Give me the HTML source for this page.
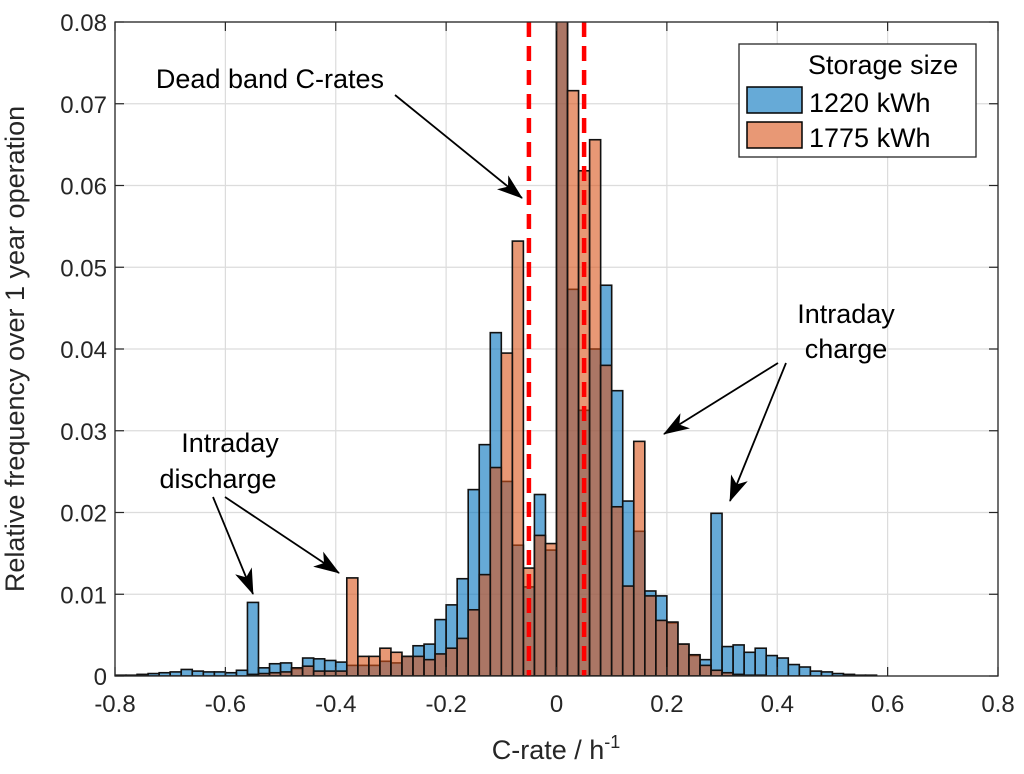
<!DOCTYPE html>
<html><head><meta charset="utf-8"><style>
html,body{margin:0;padding:0;background:#fff;}
svg{display:block;font-family:"Liberation Sans",Arial,sans-serif;}
</style></head><body>
<svg id="chart" width="1024" height="774" viewBox="0 0 1024 774" xmlns="http://www.w3.org/2000/svg">
<defs>
<clipPath id="plotclip"><rect x="115" y="22" width="883" height="654"/></clipPath>
<marker id="ah" markerWidth="26" markerHeight="18" refX="25" refY="9" orient="auto" markerUnits="userSpaceOnUse" viewBox="0 0 26 18"><path d="M0,0 L26,9 L0,18 L7,9 Z" fill="#000"/></marker>
</defs>
<rect x="115" y="22" width="883" height="654" fill="#fff"/>
<g id="grid"></g>
<g id="bars" clip-path="url(#plotclip)"></g>
<g id="deadband"></g>
<rect x="115" y="22" width="883" height="654" fill="none" stroke="#262626" stroke-width="1.3"/>
<g id="ticks"></g>
<text x="24" y="349" transform="rotate(-90 24 349)" text-anchor="middle" font-size="27" fill="#262626">Relative frequency over 1 year operation</text>
<text x="556" y="759" text-anchor="middle" font-size="27" fill="#262626">C-rate / h<tspan dy="-11" font-size="18">-1</tspan></text>
<g>
<rect x="739" y="44" width="237" height="113" fill="#fff" stroke="#262626" stroke-width="1.3"/>
<text x="808" y="74" font-size="27" fill="#000">Storage size</text>
<rect x="747" y="87" width="55" height="26" fill="rgb(0,114,189)" fill-opacity="0.6" stroke="#000" stroke-width="1.5"/>
<text x="809" y="112" font-size="27" fill="#000">1220 kWh</text>
<rect x="747" y="122" width="55" height="26" fill="rgb(217,83,25)" fill-opacity="0.6" stroke="#000" stroke-width="1.5"/>
<text x="809" y="147" font-size="27" fill="#000">1775 kWh</text>
</g>
<g font-size="27" fill="#000">
<text x="270" y="88" text-anchor="middle">Dead band C-rates</text>
<line x1="395" y1="95" x2="522" y2="198" stroke="#000" stroke-width="1.8" marker-end="url(#ah)"/>
<text x="230" y="452" text-anchor="middle">Intraday</text>
<text x="218" y="488" text-anchor="middle">discharge</text>
<line x1="213" y1="497" x2="253" y2="594" stroke="#000" stroke-width="1.8" marker-end="url(#ah)"/>
<line x1="225" y1="497" x2="339" y2="573" stroke="#000" stroke-width="1.8" marker-end="url(#ah)"/>
<text x="846" y="323" text-anchor="middle">Intraday</text>
<text x="846" y="358" text-anchor="middle">charge</text>
<line x1="778" y1="363" x2="664" y2="434" stroke="#000" stroke-width="1.8" marker-end="url(#ah)"/>
<line x1="786" y1="363" x2="730" y2="501" stroke="#000" stroke-width="1.8" marker-end="url(#ah)"/>
</g>
</svg>
<script>
const binStart = -0.8;
const binWidth = 0.02;
const blueValues = [0.0001,0.0001,0.0002,0.0003,0.0004,0.0005,0.0008,0.0006,0.0005,0.0005,
0.0004,0.0007,0.0090,0.0010,0.0015,0.0016,0.0009,0.0022,0.0021,0.0019,
0.0017,0.0013,0.0013,0.0013,0.0018,0.0016,0.0024,0.0037,0.0039,0.0069,
0.0087,0.0119,0.0228,0.0283,0.0420,0.0238,0.0160,0.0109,0.0222,0.0154,
0.0900,0.0473,0.0325,0.0400,0.0478,0.0349,0.0214,0.0177,0.0104,0.0098,
0.0065,0.0039,0.0025,0.0020,0.0199,0.0036,0.0038,0.0029,0.0034,0.0025,
0.0022,0.0014,0.0011,0.0006,0.0005,0.0003,0.0002,0.0001,0.0001,0,
0,0,0,0,0,0,0,0,0,0];
const orangeValues = [0,0,0,0,0,0,0,0,0,0,
0,0,0.0002,0.0003,0.0004,0.0005,0.0010,0.0012,0.0006,0.0006,
0.0006,0.0120,0.0024,0.0024,0.0034,0.0029,0.0024,0.0024,0.0020,0.0027,
0.0034,0.0046,0.0081,0.0124,0.0255,0.0395,0.0532,0.0132,0.0172,0.0162,
0.0900,0.0716,0.0618,0.0656,0.0380,0.0207,0.0110,0.0287,0.0098,0.0068,
0.0066,0.0039,0.0026,0.0013,0.0007,0.0004,0.0002,0.0001,0.0001,0,
0,0,0,0,0,0,0,0,0,0,
0,0,0,0,0,0,0,0,0,0];
const xTicks = [-0.8,-0.6,-0.4,-0.2,0,0.2,0.4,0.6,0.8];
const xTickLabels = ["-0.8","-0.6","-0.4","-0.2","0","0.2","0.4","0.6","0.8"];
const yTicks = [0,0.01,0.02,0.03,0.04,0.05,0.06,0.07,0.08];
const yTickLabels = ["0","0.01","0.02","0.03","0.04","0.05","0.06","0.07","0.08"];
const deadBand = [-0.05,0.05];

const NS="http://www.w3.org/2000/svg";
const L=115,R=998,T=22,B=676;
function xs(v){return L+(v+0.8)/1.6*(R-L);}
function ys(v){return B-v/0.08*(B-T);}
function mk(tag,attrs,parent){const e=document.createElementNS(NS,tag);for(const k in attrs)e.setAttribute(k,attrs[k]);parent.appendChild(e);return e;}

const grid=document.getElementById('grid'),ticks=document.getElementById('ticks'),bars=document.getElementById('bars'),db=document.getElementById('deadband');
xTicks.forEach((t,i)=>{
  const x=xs(t);
  const g=mk('line',{x1:x,x2:x,y1:T,y2:B,stroke:'#dcdcdc','stroke-width':1.2},grid);
  
  
  const tk=mk('line',{x1:x,x2:x,y1:B,y2:B-9,stroke:'#262626','stroke-width':1.2},ticks);
  
  
  const tk2=mk('line',{x1:x,x2:x,y1:T,y2:T+9,stroke:'#262626','stroke-width':1.2},ticks);
  
  
  const tx=mk('text',{x:x,y:B+36,'text-anchor':'middle','font-size':24,fill:'#262626'},ticks);
  tx.textContent=xTickLabels[i];
  
  
});
yTicks.forEach((t,i)=>{
  const y=ys(t);
  const g=mk('line',{x1:L,x2:R,y1:y,y2:y,stroke:'#dcdcdc','stroke-width':1.2},grid);
  
  
  const tk=mk('line',{x1:L,x2:L+9,y1:y,y2:y,stroke:'#262626','stroke-width':1.2},ticks);
  
  
  const tk2=mk('line',{x1:R,x2:R-9,y1:y,y2:y,stroke:'#262626','stroke-width':1.2},ticks);
  
  
  const tx=mk('text',{x:L-8,y:y+9,'text-anchor':'end','font-size':24,fill:'#262626'},ticks);
  tx.textContent=yTickLabels[i];
  
  
});
function drawSeries(vals,color,name){
  vals.forEach((v,i)=>{
    if(v<=0)return;
    const x0=xs(binStart+i*binWidth),x1=xs(binStart+(i+1)*binWidth);
    const y=ys(v);
    const r=mk('rect',{x:x0,y:y,width:x1-x0,height:B-y,fill:color,'fill-opacity':0.6,stroke:'#111','stroke-width':1.6},bars);
    
    
  });
}
drawSeries(blueValues,'rgb(0,114,189)','bar-1220-kwh');
drawSeries(orangeValues,'rgb(217,83,25)','bar-1775-kwh');
deadBand.forEach(d=>{
  const x=xs(d);
  const l=mk('line',{x1:x,x2:x,y1:T,y2:B,stroke:'#ff0000','stroke-width':4.5,'stroke-dasharray':'15 9'},db);
  
  
});
</script>
</body></html>
